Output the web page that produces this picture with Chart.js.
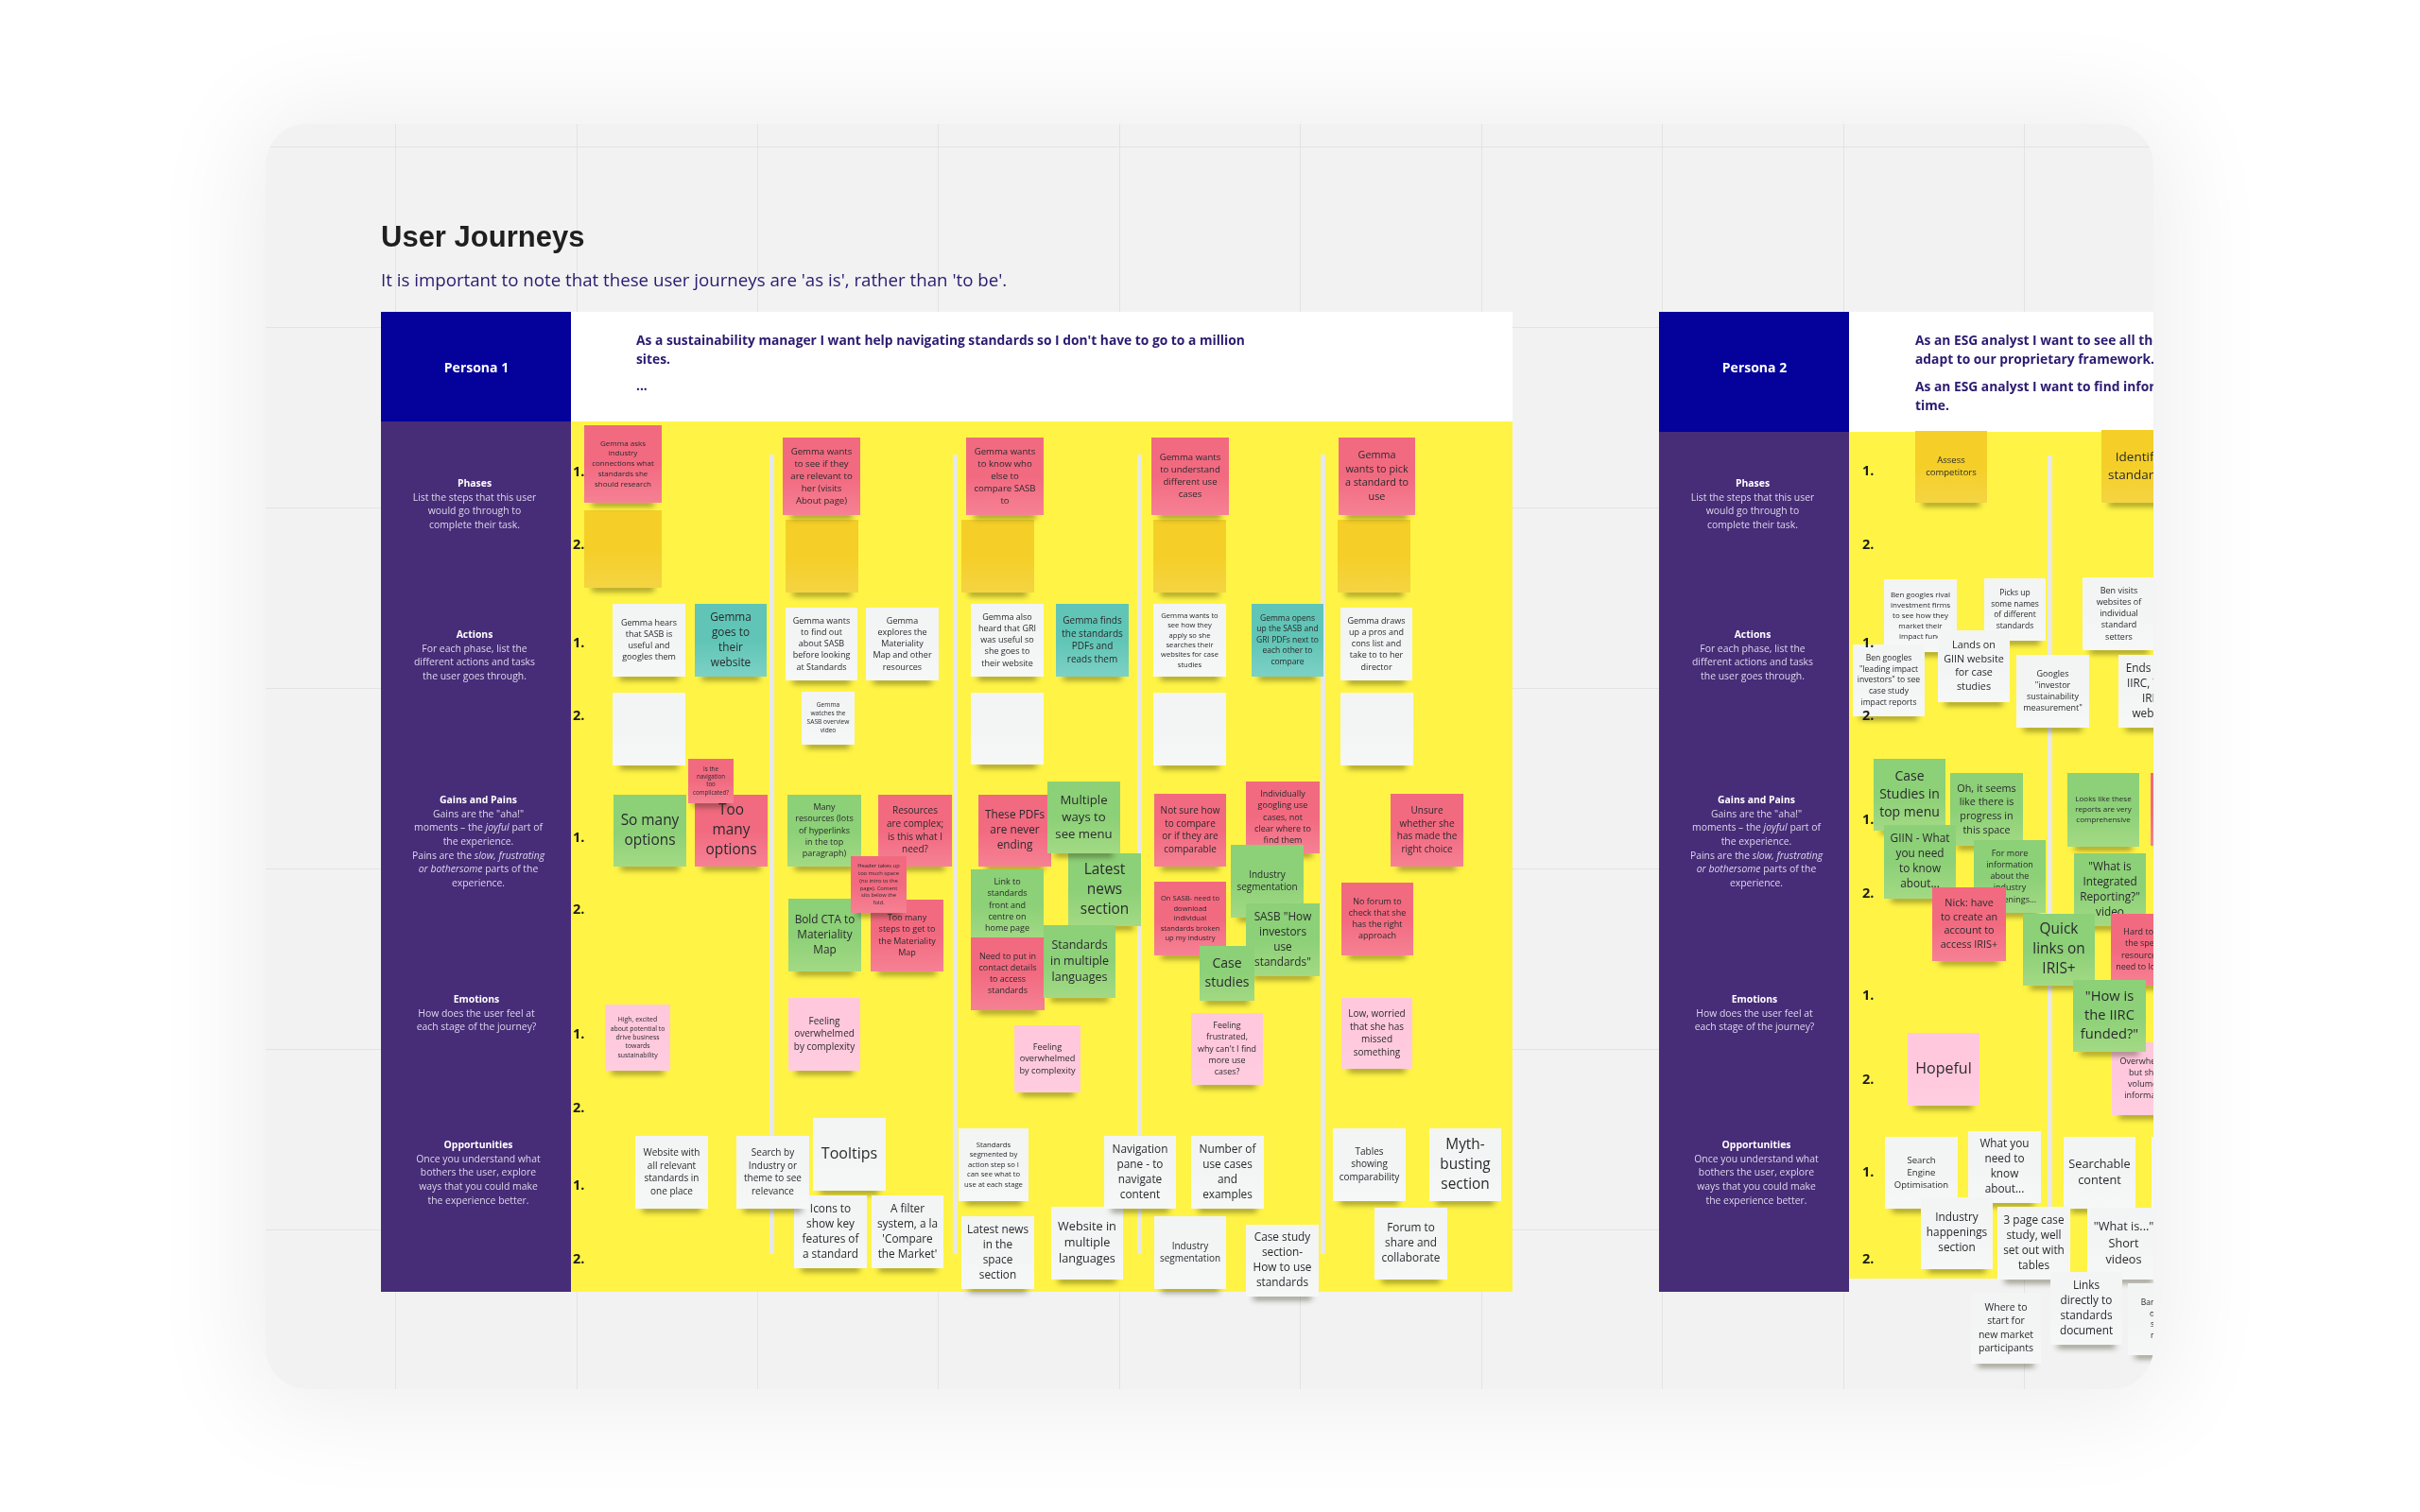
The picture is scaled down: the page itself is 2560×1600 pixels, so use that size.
<!DOCTYPE html>
<html>
<head>
<meta charset="utf-8">
<title>User Journeys</title>
<script src="https://cdn.jsdelivr.net/npm/chart.js@4"></script>
<style>
  html, body { margin: 0; background: #fff; }
  #board { position: absolute; left: 281px; top: 131px; width: 1997px; height: 1339px; overflow: hidden;
           border-radius: 44px; background: #f2f2f2; box-shadow: 0 4px 110px 18px rgba(0,0,0,.07); }
  #chart { position: absolute; left: -281px; top: -131px; filter: blur(.45px); }
</style>
</head>
<body>
<div id="board"><canvas id="chart" width="2560" height="1600"></canvas></div>
<script>
// board grid
const gridX = [418, 610, 801, 992, 1184, 1375, 1567, 1758, 1950, 2141];
const gridY = [155, 346, 537, 728, 919, 1110, 1301];

// coloured panels behind the notes, dividers last
const panelLeft   = [403, 604, 403, 604, 1755, 1956, 1755, 1956, 814, 1008, 1203, 1397, 2166];
const panelRight  = [604, 1600, 604, 1600, 1956, 2290, 1956, 2290, 819, 1013, 1208, 1402, 2171];
const panelTop    = [330, 330, 446, 446, 330, 330, 457, 457, 481, 481, 481, 481, 482];
const panelBottom = [446, 446, 1367, 1367, 457, 457, 1367, 1353, 1327, 1327, 1327, 1327, 1345];
const panelColors = ["#04029a", "#ffffff", "#472c78", "#fff445", "#04029a", "#ffffff", "#472c78", "#fff445",
                     "#e8e8e8", "#e8e8e8", "#e8e8e8", "#e8e8e8", "#e8e8e8"];

const pageTitle = "User Journeys";
const pageNote = "It is important to note that these user journeys are 'as is', rather than 'to be'.";
const personaNames = ["Persona 1", "Persona 2"];
const personaCentreX = [504, 1856];
const personaCentreY = [390, 390];
const storyLines1 = ["As a sustainability manager I want help navigating standards so I don't have to go to a million", "sites.", "..."];
const storyY1 = [361, 381, 409];
const storyLines2 = ["As an ESG analyst I want to see all the standards and", "adapt to our proprietary framework.", "As an ESG analyst I want to find information in less", "time."];
const storyY2 = [361, 381, 410, 430];

// _x_ marks italics
const sideHeadings = ["Phases", "Actions", "Gains and Pains", "Emotions", "Opportunities"];
const sideHeadingY = [512, 672, 847, 1058, 1212];
const sideShiftX = [-2, -2, 2, 0, 2];
const sideBodies = [
  ["List the steps that this user", "would go through to", "complete their task."],
  ["For each phase, list the", "different actions and tasks", "the user goes through."],
  ["Gains are the \"aha!\"", "moments – the _joyful_ part of", "the experience.", "Pains are the _slow, frustrating_", "_or bothersome_ parts of the", "experience."],
  ["How does the user feel at", "each stage of the journey?"],
  ["Once you understand what", "bothers the user, explore", "ways that you could make", "the experience better."],
];

const rowLabels = ["1.", "2.", "1.", "2.", "1.", "2.", "1.", "2.", "1.", "2."];
const rowLabelY1 = [500, 577, 681, 758, 887, 963, 1095, 1173, 1255, 1333];
const rowLabelY2 = [499, 577, 681, 758, 868, 946, 1054, 1143, 1241, 1333];

// sticky notes, bottom of the stack first
const noteTexts = [
  // persona 1 phases
  "", "Gemma asks\nindustry\nconnections what\nstandards she\nshould research",
  "", "Gemma wants\nto see if they\nare relevant to\nher (visits\nAbout page)",
  "", "Gemma wants\nto know who\nelse to\ncompare SASB\nto",
  "", "Gemma wants\nto understand\ndifferent use\ncases",
  "", "Gemma\nwants to pick\na standard to\nuse",
  // persona 1 actions
  "Gemma hears\nthat SASB is\nuseful and\ngoogles them",
  "Gemma\ngoes to\ntheir\nwebsite",
  "Gemma wants\nto find out\nabout SASB\nbefore looking\nat Standards",
  "Gemma\nexplores the\nMateriality\nMap and other\nresources",
  "Gemma also\nheard that GRI\nwas useful so\nshe goes to\ntheir website",
  "Gemma finds\nthe standards\nPDFs and\nreads them",
  "Gemma wants to\nsee how they\napply so she\nsearches their\nwebsites for case\nstudies",
  "Gemma opens\nup the SASB and\nGRI PDFs next to\neach other to\ncompare",
  "Gemma draws\nup a pros and\ncons list and\ntake to to her\ndirector",
  "", "Gemma\nwatches the\nSASB overview\nvideo", "", "", "",
  // persona 1 gains and pains
  "So many\noptions",
  "Too\nmany\noptions",
  "Is the\nnavigation\ntoo\ncomplicated?",
  "Many\nresources (lots\nof hyperlinks\nin the top\nparagraph)",
  "Resources\nare complex;\nis this what I\nneed?",
  "Bold CTA to\nMateriality\nMap",
  "Too many\nsteps to get to\nthe Materiality\nMap",
  "Header takes up\ntoo much space\n(no intro to the\npage). Content\nsits below the\nfold.",
  "These PDFs\nare never\nending",
  "Latest\nnews\nsection",
  "Multiple\nways to\nsee menu",
  "Link to\nstandards\nfront and\ncentre on\nhome page",
  "Need to put in\ncontact details\nto access\nstandards",
  "Standards\nin multiple\nlanguages",
  "Not sure how\nto compare\nor if they are\ncomparable",
  "Individually\ngoogling use\ncases, not\nclear where to\nfind them",
  "On SASB- need to\ndownload\nindividual\nstandards broken\nup my industry",
  "Industry\nsegmentation",
  "SASB \"How\ninvestors\nuse\nstandards\"",
  "Case\nstudies",
  "Unsure\nwhether she\nhas made the\nright choice",
  "No forum to\ncheck that she\nhas the right\napproach",
  // persona 1 emotions
  "High, excited\nabout potential to\ndrive business\ntowards\nsustainability",
  "Feeling\noverwhelmed\nby complexity",
  "Feeling\noverwhelmed\nby complexity",
  "Feeling\nfrustrated,\nwhy can't I find\nmore use\ncases?",
  "Low, worried\nthat she has\nmissed\nsomething",
  // persona 1 opportunities
  "Website with\nall relevant\nstandards in\none place",
  "Tooltips",
  "Icons to\nshow key\nfeatures of\na standard",
  "Search by\nIndustry or\ntheme to see\nrelevance",
  "A filter\nsystem, a la\n'Compare\nthe Market'",
  "Standards\nsegmented by\naction step so I\ncan see what to\nuse at each stage",
  "Latest news\nin the\nspace\nsection",
  "Website in\nmultiple\nlanguages",
  "Navigation\npane - to\nnavigate\ncontent",
  "Number of\nuse cases\nand\nexamples",
  "Industry\nsegmentation",
  "Case study\nsection-\nHow to use\nstandards",
  "Tables\nshowing\ncomparability",
  "Myth-\nbusting\nsection",
  "Forum to\nshare and\ncollaborate",
  // persona 2
  "Assess\ncompetitors",
  "Identify\nstandards",
  "Ben googles rival\ninvestment firms\nto see how they\nmarket their\nimpact fund",
  "Picks up\nsome names\nof different\nstandards",
  "Ben visits\nwebsites of\nindividual\nstandard\nsetters",
  "Ben googles\n\"leading impact\ninvestors\" to see\ncase study\nimpact reports",
  "Lands on\nGIIN website\nfor case\nstudies",
  "Googles\n\"investor\nsustainability\nmeasurement\"",
  "Ends up on\nIIRC, TCFD,\nIRIS+\nwebsites",
  "Case\nStudies in\ntop menu",
  "Oh, it seems\nlike there is\nprogress in\nthis space",
  "For more\ninformation\nabout the\nindustry\nhappenings...",
  "GIIN - What\nyou need\nto know\nabout...",
  "Nick: have\nto create an\naccount to\naccess IRIS+",
  "Looks like these\nreports are very\ncomprehensive",
  "",
  "\"What is\nIntegrated\nReporting?\"\nvideo",
  "Quick\nlinks on\nIRIS+",
  "Hard to find\nthe specific\nresource you\nneed to look for",
  "Overwhelmed\nbut sheer\nvolume of\ninformation",
  "\"How is\nthe IIRC\nfunded?\"",
  "Hopeful",
  "Search\nEngine\nOptimisation",
  "What you\nneed to\nknow\nabout...",
  "Searchable\ncontent",
  "",
  "Industry\nhappenings\nsection",
  "3 page case\nstudy, well\nset out with\ntables",
  "\"What is...\"\nShort\nvideos",
  "Where to\nstart for\nnew market\nparticipants",
  "Bar and line\nof each\nshould\nmatter",
  "Links\ndirectly to\nstandards\ndocument",
];
const noteLeft = [
  618, 618, 831, 828, 1017, 1022, 1220, 1218, 1415, 1416,
  648, 735, 831, 916, 1027, 1117, 1220, 1324, 1418, 648, 848, 1027, 1220, 1418,
  649, 735, 728, 833, 929, 834, 921, 900, 1035, 1130, 1108, 1027, 1027, 1104, 1221, 1318, 1221, 1302, 1318, 1269, 1471, 1419,
  640, 834, 1073, 1260, 1419,
  672, 860, 840, 779, 922, 1014, 1017, 1112, 1168, 1260, 1221, 1318, 1410, 1512, 1454,
  2026, 2223, 1993, 2099, 2203, 1960, 2050, 2133, 2241, 1982, 2063, 2088, 1993, 2044, 2187, 2275,
  2194, 2140, 2233, 2234, 2193, 2018, 1994, 2082, 2183, 2276, 2032, 2113, 2208, 2085, 2251, 2169,
];
const noteRight = [
  700, 700, 908, 910, 1094, 1104, 1297, 1300, 1492, 1497,
  725, 811, 907, 993, 1104, 1194, 1297, 1400, 1494, 725, 904, 1104, 1297, 1495,
  726, 812, 776, 911, 1007, 911, 998, 959, 1112, 1207, 1185, 1104, 1105, 1180, 1297, 1396, 1297, 1379, 1396, 1327, 1548, 1495,
  709, 910, 1143, 1336, 1494,
  749, 937, 917, 856, 998, 1088, 1094, 1188, 1244, 1337, 1297, 1395, 1487, 1588, 1531,
  2102, 2300, 2070, 2164, 2280, 2036, 2126, 2210, 2318, 2058, 2140, 2164, 2069, 2122, 2263, 2352,
  2270, 2216, 2310, 2310, 2270, 2094, 2071, 2159, 2259, 2352, 2108, 2190, 2285, 2159, 2326, 2245,
];
const noteTop = [
  540, 450, 550, 463, 550, 463, 550, 463, 550, 463,
  639, 639, 643, 643, 639, 639, 639, 639, 643, 733, 732, 733, 733, 733,
  841, 841, 803, 841, 841, 951, 952, 906, 841, 903, 827, 920, 992, 979, 840, 827, 933, 894, 956, 1001, 840, 934,
  1063, 1056, 1085, 1072, 1056,
  1202, 1183, 1265, 1202, 1265, 1194, 1287, 1277, 1202, 1202, 1287, 1296, 1194, 1194, 1278,
  456, 455, 613, 612, 611, 682, 667, 693, 693, 803, 818, 889, 873, 939, 818, 818,
  903, 967, 967, 1103, 1037, 1093, 1203, 1197, 1203, 1203, 1267, 1277, 1278, 1368, 1358, 1346,
];
const noteBottom = [
  622, 532, 627, 545, 627, 545, 627, 545, 627, 545,
  716, 716, 720, 720, 716, 716, 716, 716, 720, 810, 788, 809, 810, 810,
  917, 917, 850, 917, 917, 1028, 1028, 966, 917, 980, 903, 996, 1069, 1056, 917, 903, 1011, 971, 1033, 1059, 917, 1011,
  1133, 1133, 1156, 1148, 1131,
  1279, 1260, 1342, 1279, 1342, 1271, 1364, 1354, 1279, 1279, 1364, 1372, 1271, 1271, 1354,
  532, 532, 690, 678, 688, 758, 743, 770, 770, 879, 895, 966, 951, 1017, 896, 895,
  980, 1043, 1043, 1180, 1113, 1170, 1279, 1273, 1279, 1279, 1343, 1354, 1354, 1443, 1434, 1423,
];
const noteKinds = [
  "o", "r", "o", "r", "o", "r", "o", "r", "o", "r",
  "w", "t", "w", "w", "w", "t", "w", "t", "w", "w", "w", "w", "w", "w",
  "g", "r", "r", "g", "r", "g", "r", "r", "r", "g", "g", "g", "r", "g", "r", "r", "r", "g", "g", "g", "r", "r",
  "p", "p", "p", "p", "p",
  "w", "w", "w", "w", "w", "w", "w", "w", "w", "w", "w", "w", "w", "w", "w",
  "o", "o", "w", "w", "w", "w", "w", "w", "w", "g", "g", "g", "g", "r", "g", "r",
  "g", "g", "r", "p", "g", "p", "w", "w", "w", "w", "w", "w", "w", "w", "w", "w",
];
const noteFontSizes = [
  8, 8, 9.6, 9.6, 9.6, 9.6, 9.6, 9.6, 10.8, 10.8,
  9, 11.8, 9, 9, 9, 10, 7.6, 8.5, 9, 9, 6.6, 9, 9, 9,
  15.4, 15.4, 6.2, 9, 10, 11.8, 9, 5.8, 11.8, 15.4, 13.2, 9, 9, 12.5, 10, 9, 7.6, 10, 11.8, 14, 10, 9,
  6.9, 10, 9.2, 8.9, 10,
  10, 16, 11.8, 10, 11.8, 7.7, 11.8, 12.7, 11.8, 11.8, 10, 11.8, 10, 15.4, 11.8,
  9.5, 13.5, 8, 8.5, 9, 8.6, 10.8, 9, 11.8, 14, 10.8, 9, 11.8, 10.8, 8, 9,
  11.8, 15.4, 9, 9, 14.7, 16, 9.5, 11.8, 12.7, 9, 11.8, 11.8, 12.7, 10.5, 8.5, 11.8,
];

const SANS = '"Open Sans"';
const NOTE_FILL = {
  r: ["#f26a80", "#f68194"],
  o: ["#f5cf28", "#f4d443"],
  g: ["#8cd077", "#a3da84"],
  t: ["#60c5b6", "#7cd1c5"],
  w: ["#f3f4f4", "#f6f7f7"],
  p: ["#ffc8dd", "#ffcde0"],
};
const PAD = 14;

function makeRect(w, h, color) {
  const c = document.createElement("canvas");
  c.width = Math.round(w);
  c.height = Math.round(h);
  const g = c.getContext("2d");
  g.fillStyle = color;
  g.fillRect(0, 0, c.width, c.height);
  return c;
}

function makeNote(w, h, kind, size, text) {
  const c = document.createElement("canvas");
  c.width = Math.round(w) + PAD * 2;
  c.height = Math.round(h) + PAD * 2;
  const g = c.getContext("2d");
  const W = c.width - PAD * 2, H = c.height - PAD * 2;
  // shadow only along the lower edge
  g.save();
  g.shadowColor = "rgba(30,30,0,.65)";
  g.shadowBlur = 6;
  g.shadowOffsetY = 3;
  g.fillStyle = "#444";
  g.fillRect(PAD + W * 0.1, PAD + H - 4, W * 0.8, 4);
  g.restore();
  const fill = g.createLinearGradient(0, PAD, 0, PAD + H);
  fill.addColorStop(0, NOTE_FILL[kind][0]);
  fill.addColorStop(0.5, NOTE_FILL[kind][0]);
  fill.addColorStop(1, NOTE_FILL[kind][1]);
  g.fillStyle = fill;
  g.fillRect(PAD, PAD, W, H);
  if (text) {
    const lines = text.split("\n");
    const lh = size * 1.36;
    g.font = size + "px " + SANS;
    g.fillStyle = "#2a2a2e";
    g.textAlign = "center";
    g.textBaseline = "middle";
    lines.forEach((l, i) => {
      g.fillText(l, PAD + W / 2, PAD + H / 2 + (i - (lines.length - 1) / 2) * lh);
    });
  }
  return c;
}

const panelPoints = panelLeft.map((l, i) => ({ x: (l + panelRight[i]) / 2, y: (panelTop[i] + panelBottom[i]) / 2 }));
const notePoints = noteLeft.map((l, i) => ({ x: (l + noteRight[i]) / 2, y: (noteTop[i] + noteBottom[i]) / 2 }));
const noteCache = [];
const panelCache = [];

// scales have no size until the first layout is done
const scalesReady = (chart) => chart.chartArea && chart.chartArea.width > 1;

// mixed roman / italic line, centred on x
function richLine(ctx, line, x, y, size) {
  const parts = line.split("_");
  const fontFor = (i) => (i % 2 ? "italic " : "") + size + "px " + SANS;
  let total = 0;
  parts.forEach((p, i) => { ctx.font = fontFor(i); total += ctx.measureText(p).width; });
  let cx = x - total / 2;
  ctx.textAlign = "left";
  parts.forEach((p, i) => {
    ctx.font = fontFor(i);
    ctx.fillText(p, cx, y);
    cx += ctx.measureText(p).width;
  });
}

const boardText = {
  id: "boardText",
  afterDatasetsDraw(chart) {
    const { ctx, scales: { x, y } } = chart;
    const px = (v) => x.getPixelForValue(v);
    const py = (v) => y.getPixelForValue(v);
    ctx.save();
    ctx.textBaseline = "middle";

    ctx.fillStyle = "#1f1f1f";
    ctx.font = 'bold 31px "Liberation Sans"';
    ctx.textAlign = "left";
    ctx.fillText(pageTitle, px(403), py(252));
    ctx.fillStyle = "#2b1a70";
    ctx.font = "18.7px " + SANS;
    ctx.fillText(pageNote, px(403), py(298));

    ctx.font = "bold 13.8px " + SANS;
    ctx.fillStyle = "#2b1a70";
    storyLines1.forEach((l, i) => ctx.fillText(l, px(673), py(storyY1[i])));
    storyLines2.forEach((l, i) => ctx.fillText(l, px(2026), py(storyY2[i])));

    ctx.fillStyle = "#ffffff";
    ctx.textAlign = "center";
    ctx.font = "bold 14px " + SANS;
    personaNames.forEach((n, i) => ctx.fillText(n, px(personaCentreX[i]), py(personaCentreY[i])));

    personaCentreX.forEach((cx) => {
      sideHeadings.forEach((h, i) => {
        const sx = cx + sideShiftX[i];
        ctx.fillStyle = "#ffffff";
        ctx.textAlign = "center";
        ctx.font = "bold 10.4px " + SANS;
        ctx.fillText(h, px(sx), py(sideHeadingY[i]));
        ctx.fillStyle = "#ddd8ea";
        sideBodies[i].forEach((line, k) => richLine(ctx, line, px(sx), py(sideHeadingY[i] + 14.7 * (k + 1)), 10.4));
      });
    });

    ctx.fillStyle = "#1c1c1c";
    ctx.textAlign = "left";
    ctx.font = "bold 14.5px " + SANS;
    rowLabels.forEach((l, i) => {
      ctx.fillText(l, px(606), py(rowLabelY1[i]));
      ctx.fillText(l, px(1970), py(rowLabelY2[i]));
    });
    ctx.restore();
  },
};

new Chart(document.getElementById("chart"), {
  type: "scatter",
  plugins: [boardText],
  data: {
    datasets: [
      {
        order: 2,
        data: panelPoints,
        pointRadius: 1,
        pointStyle(c) {
          const i = c.dataIndex;
          if (i === undefined || !scalesReady(c.chart)) return "rect";
          if (!panelCache[i]) {
            const { x, y } = c.chart.scales;
            panelCache[i] = makeRect(x.getPixelForValue(panelRight[i]) - x.getPixelForValue(panelLeft[i]),
              y.getPixelForValue(panelBottom[i]) - y.getPixelForValue(panelTop[i]), panelColors[i]);
          }
          return panelCache[i];
        },
      },
      {
        order: 1,
        data: notePoints,
        pointRadius: 1,
        pointStyle(c) {
          const i = c.dataIndex;
          if (i === undefined || !scalesReady(c.chart)) return "rect";
          if (!noteCache[i]) {
            const { x, y } = c.chart.scales;
            noteCache[i] = makeNote(x.getPixelForValue(noteRight[i]) - x.getPixelForValue(noteLeft[i]),
              y.getPixelForValue(noteBottom[i]) - y.getPixelForValue(noteTop[i]),
              noteKinds[i], noteFontSizes[i], noteTexts[i]);
          }
          return noteCache[i];
        },
      },
    ],
  },
  options: {
    responsive: false,
    devicePixelRatio: 1,
    animation: false,
    events: [],
    layout: { padding: 0, autoPadding: false },
    plugins: { legend: { display: false }, tooltip: { enabled: false } },
    scales: {
      x: {
        type: "linear", min: 0, max: 2560,
        ticks: { display: false },
        grid: { color: "#e3e3e3", drawTicks: false },
        border: { display: false },
        afterBuildTicks(s) { s.ticks = gridX.map((value) => ({ value })); },
      },
      y: {
        type: "linear", min: 0, max: 1600, reverse: true,
        ticks: { display: false },
        grid: { color: "#e3e3e3", drawTicks: false },
        border: { display: false },
        afterBuildTicks(s) { s.ticks = gridY.map((value) => ({ value })); },
      },
    },
  },
});
</script>
</body>
</html>
